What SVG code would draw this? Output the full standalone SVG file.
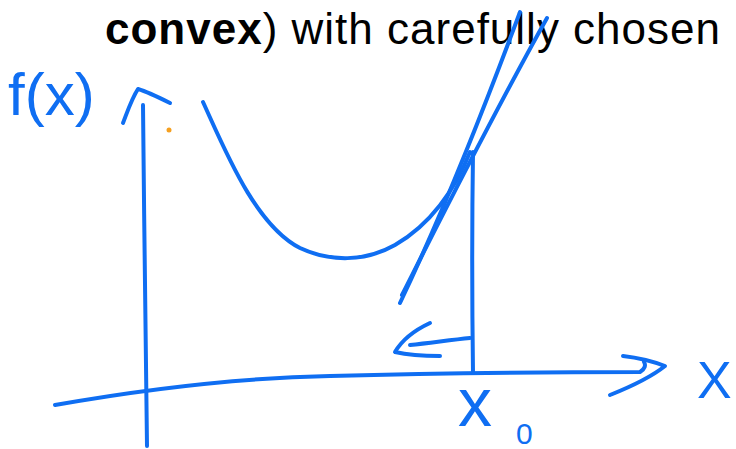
<svg xmlns="http://www.w3.org/2000/svg" width="736" height="449" viewBox="0 0 736 449">
<style>
.ink{fill:none;stroke:#0f6ef2;stroke-width:4;stroke-linecap:round;stroke-linejoin:round}
.hand{font-family:"Liberation Sans","DejaVu Sans",sans-serif;fill:#0f6ef2}
.title{font-family:"Liberation Sans","DejaVu Sans",sans-serif;font-size:44px;fill:#000}
</style>
<rect width="736" height="449" fill="#fff"/>
<text class="title" x="105" y="44" textLength="615" lengthAdjust="spacing"><tspan font-weight="bold">convex</tspan>) with carefully chosen</text>
<g id="connectors">
<path id="y-axis" class="ink" d="M147 446 C146 350 144 220 143 105"/>
<path id="y-arrow" class="ink" d="M123 123 C128 110 132 98 138 89 C148 92 158 97 170 103"/>
<path id="x-axis" class="ink" d="M55 405 C140 390 230 378 330 376 C440 373 540 372 640 372 C645 369 646 365 644 362"/>
<path id="x-arrow" class="ink" d="M623 356 C640 358 652 361 665 366 C650 378 630 387 610 395"/>
<path id="curve" class="ink" d="M203 102 C225 150 255 225 300 248 C330 262 365 262 395 245 C430 225 455 190 470 152"/>
<path id="tangent1" class="ink" d="M400 303 C430 240 465 160 520 12"/>
<path id="tangent2" class="ink" d="M402 295 C445 210 490 120 547 18"/>
<path id="x0-line" class="ink" d="M473 152 C472 220 472 300 473 373"/>
<path id="left-arrow" class="ink" d="M410 345 C430 343 450 340 470 338 M430 323 C415 330 402 340 395 352 C408 355 425 356 440 356"/>
</g>
<g id="fx-label"><text class="hand" x="8" y="115" font-size="60">f(x)</text></g>
<g id="x-label"><text class="hand" x="697" y="398" font-size="52">X</text></g>
<g id="x0-label"><text class="hand" x="458" y="426" font-size="68">x</text><text class="hand" x="516" y="444" font-size="30">0</text></g>
<g id="dot"><circle cx="169" cy="130" r="2.5" fill="#f5a020"/></g>
</svg>
